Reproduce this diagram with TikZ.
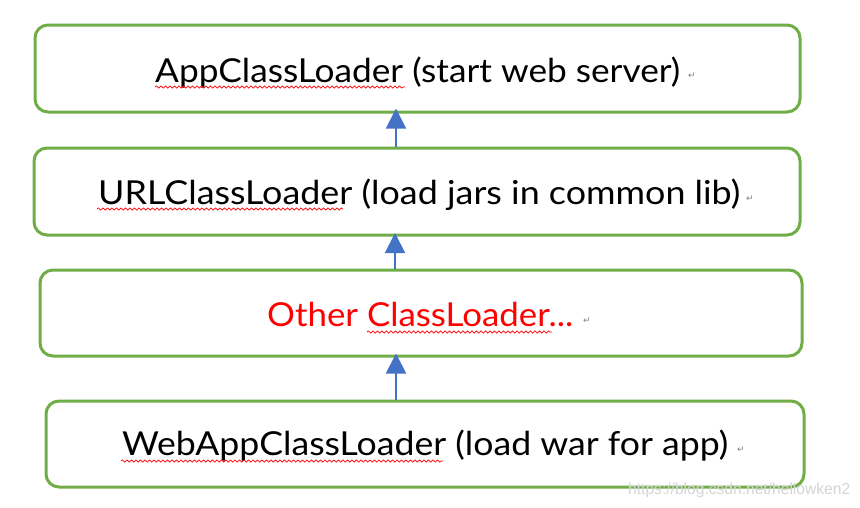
\documentclass[tikz,border=0pt]{standalone}
\usepackage{fontspec}
\usepackage{graphicx}
\setmainfont{Lato}
\newfontfamily\symfont{DejaVu Sans}
\newfontfamily\wmfont{Liberation Sans}
\usetikzlibrary{arrows.meta,decorations.pathmorphing}
\definecolor{boxgreen}{HTML}{70AD47}
\definecolor{arrowblue}{HTML}{4472C4}
\definecolor{wmgray}{HTML}{D4D4D4}
\tikzset{
  loaderbox/.style={draw=boxgreen, line width=3pt, rounded corners=13pt, inner sep=0pt},
  uparrow/.style={draw=arrowblue, line width=2pt, -{Triangle[width=20pt,length=20pt]}},
  label/.style={anchor=base west, inner sep=0pt, font=\fontsize{33}{36}\selectfont},
  squiggle/.style={draw=red, line width=0.7pt, decorate, decoration={snake, amplitude=1.1pt, segment length=4.5pt}},
  retmark/.style={inner sep=0pt, text=gray, font=\symfont\fontsize{9}{10}\selectfont},
}
\newcommand{\fitw}[2]{\resizebox{#1}{\height}{#2}}
\begin{document}
\begin{tikzpicture}[x=1pt,y=-1pt]
\useasboundingbox (0,0) rectangle (860,507);
% boxes
\node[loaderbox, minimum width=765pt, minimum height=87pt] (b1) at (417.5,68.5) {};
\node[loaderbox, minimum width=766pt, minimum height=87pt] (b2) at (417,191.5) {};
\node[loaderbox, minimum width=762pt, minimum height=86pt] (b3) at (421,313) {};
\node[loaderbox, minimum width=758pt, minimum height=86pt] (b4) at (425,444) {};
% texts
\node[label] (t1) at (155,82) {\fitw{525pt}{AppClassLoader (start web server)}};
\node[label] (t2) at (98,204) {\fitw{642pt}{URLClassLoader (load jars in common lib)}};
\node[label, text=red] (t3) at (267,326) {\fitw{306pt}{Other ClassLoader...}};
\node[label] (t4) at (122,455) {\fitw{606pt}{WebAppClassLoader (load war for app)}};
% spell-check squiggles
\coordinate (s1a) at (155,87); \coordinate (s1b) at (405,87);
\coordinate (s2a) at (97,209); \coordinate (s2b) at (343,209);
\coordinate (s3a) at (367,332); \coordinate (s3b) at (552,332);
\coordinate (s4a) at (121,461); \coordinate (s4b) at (443,461);
\draw[squiggle] (s1a) -- (s1b);
\draw[squiggle] (s2a) -- (s2b);
\draw[squiggle] (s3a) -- (s3b);
\draw[squiggle] (s4a) -- (s4b);
% return marks
\node[retmark] (r1) at (692,76) {↵};
\node[retmark] (r2) at (750,199) {↵};
\node[retmark] (r3) at (587,321) {↵};
\node[retmark] (r4) at (741,450) {↵};
% arrows
\draw[uparrow, shorten >=-5pt] (b2.north -| 396,0) -- (b1.south -| 396,0);
\draw[uparrow, shorten >=-3.5pt] (b3.north -| 395,0) -- (b2.south -| 395,0);
\draw[uparrow, shorten >=-4pt] (b4.north -| 396,0) -- (b3.south -| 396,0);
% watermark
\node[anchor=base west, inner sep=0pt, text=wmgray, font=\wmfont\fontsize{16}{18}\selectfont] (wm) at (628,494) {\fitw{222pt}{https://blog.csdn.net/hellowken2}};
\end{tikzpicture}
\end{document}
